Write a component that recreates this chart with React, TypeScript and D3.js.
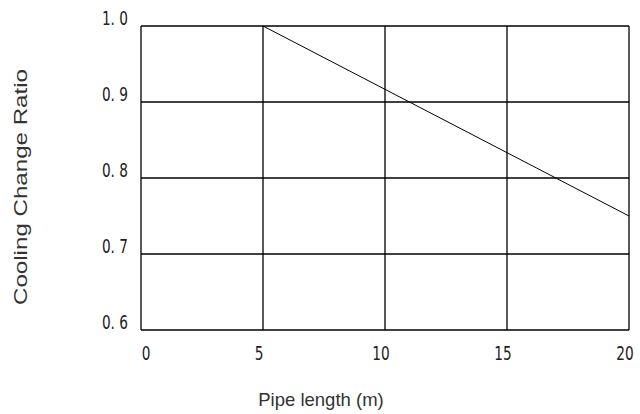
import React from "react";
import * as d3 from "d3";

const pipeLength = [5, 20];
const coolingRatio = [1.0, 0.75];
const xTicks = [0, 5, 10, 15, 20];
const yTicks = [0.6, 0.7, 0.8, 0.9, 1.0];
const yTickLabels = ["0. 6", "0. 7", "0. 8", "0. 9", "1. 0"];
const xTitle = "Pipe length (m)";
const yTitle = "Cooling Change Ratio";

export default function App() {
  const W = 640, H = 414;
  const left = 141, right = 629, top = 26, bottom = 330;
  const x = d3.scaleLinear().domain([0, 20]).range([left, right]);
  const y = d3.scaleLinear().domain([0.6, 1.0]).range([bottom, top]);
  const line = d3.line<number>().x((_, i) => x(pipeLength[i])).y((d) => y(d));
  const tickFont = "'DejaVu Sans', sans-serif";
  const titleFont = "'Liberation Sans', Arial, sans-serif";
  return (
    <svg width={W} height={H} style={{ position: "absolute", left: 0, top: 0, background: "#fff" }}>
      {xTicks.map((t) => (
        <line key={"vx" + t} x1={x(t)} x2={x(t)} y1={top} y2={bottom} stroke="#000" strokeWidth={1.3} />
      ))}
      {yTicks.map((t) => (
        <line key={"hy" + t} x1={left} x2={right} y1={y(t)} y2={y(t)} stroke="#000" strokeWidth={1.3} />
      ))}
      <path d={line(coolingRatio) || ""} fill="none" stroke="#000" strokeWidth={1} />
      {yTicks.map((t, i) => (
        <text key={"yl" + t} transform={`translate(128,${y(t) - 1}) scale(0.72,1.05)`} textAnchor="end" fontFamily={tickFont} fontSize={19} fill="#222">
          {yTickLabels[i]}
        </text>
      ))}
      {xTicks.map((t) => (
        <text key={"xl" + t} transform={`translate(${x(t) + (t === 0 ? 5 : -4)},360) scale(0.72,1.05)`} textAnchor="middle" fontFamily={tickFont} fontSize={19} fill="#222">
          {t}
        </text>
      ))}
      <text x={321} y={406} textAnchor="middle" fontFamily={titleFont} fontSize={18.5} fill="#333">
        {xTitle}
      </text>
      <text transform={`translate(27,187) rotate(-90)`} textAnchor="middle" fontFamily={titleFont} fontSize={19} textLength={236} lengthAdjust="spacingAndGlyphs" fill="#333">
        {yTitle}
      </text>
    </svg>
  );
}
